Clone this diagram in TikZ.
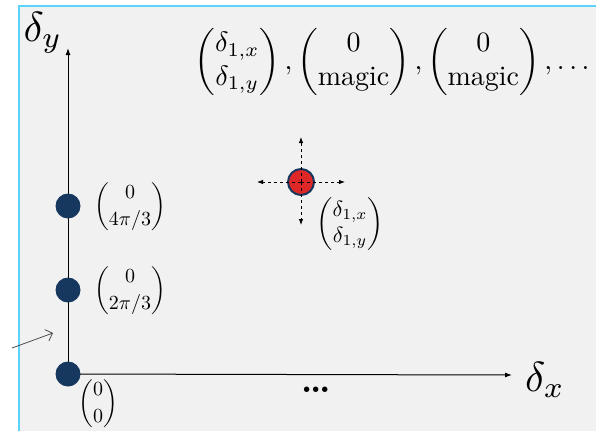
\documentclass[tikz,border=0pt]{standalone}
\usepackage{amsmath,amssymb}
\usepackage{tikz}
\usetikzlibrary{arrows.meta,calc}
\definecolor{bggray}{RGB}{241,241,241}
\definecolor{frame}{RGB}{92,212,250}
\definecolor{navy}{RGB}{22,56,94}
\definecolor{dotred}{RGB}{222,40,40}
\tikzset{
  >={Latex[length=7pt,width=5pt]},
  axis/.style={->,line width=1pt},
  pt/.style={circle,fill=navy,minimum size=25pt,inner sep=0pt},
  redpt/.style={circle,fill=dotred,draw=navy,line width=2pt,minimum size=26pt,inner sep=0pt},
  probe/.style={->,dashed,line width=0.8pt,>={Latex[length=6pt,width=4.5pt]}},
  vlbl/.style={scale=2,inner sep=0pt},
  axlbl/.style={scale=4.2,inner sep=0pt},
  toplbl/.style={scale=2.8,inner sep=0pt},
}

\begin{document}
\begin{tikzpicture}[x=1pt,y=-1pt]
  \useasboundingbox (0,0) rectangle (596,431);
  % backdrop
  \fill[white] (0,0) rectangle (596,431);
  \fill[bggray] (19,6) rectangle (596,431);
  \draw[frame,line width=2.5pt] (19,431) -- (19,6) -- (596,6);
  % axes
  \coordinate (org) at (68,374);
  \coordinate (ytop) at (68,48);
  \coordinate (xend) at (512,375);
  \draw[axis] (org) -- (ytop);
  \draw[axis] (org) -- (xend);
  \node[pt] (o) at (org) {};
  \node[pt] (p1) at (68,290) {};
  \node[pt] (p2) at (68,206) {};
  \node[axlbl] (ly) at (43,33) {$\delta_y$};
  \node[axlbl] (lx) at (545,380) {$\delta_x$};
  \node[scale=3.5,inner sep=0pt] (dots) at (316,390) {\textbf{\ldots}};
  % labels of the points
  \node[vlbl] (l0) at (98,404) {$\dbinom{0}{0}$};
  \node[vlbl] (l1) at (130,291) {$\dbinom{0}{2\pi/3}$};
  \node[vlbl] (l2) at (130,207) {$\dbinom{0}{4\pi/3}$};
  % pointer from the left
  \coordinate (src) at (12,348);
  \coordinate (dst) at (53,333);
  \draw[->,>={Straight Barb[length=6pt]},black!70,line width=0.8pt] (src) -- (dst);
  % moving point
  \node[redpt] (q) at (301,182) {};
  \draw[probe] (q.center) -- (257,182);
  \draw[probe] (q.center) -- (345,182);
  \draw[probe] (q.center) -- (301,137);
  \draw[probe] (q.center) -- (301,225);
  \node[vlbl,scale=1.1] (lq) at (350,224) {$\begin{pmatrix}\delta_{1,x}\\ \delta_{1,y}\end{pmatrix}$};
  % sequence on top
  \node[toplbl] (seq) at (392,62) {$\begin{pmatrix}\delta_{1,x}\\ \delta_{1,y}\end{pmatrix},
    \begin{pmatrix}0\\ \text{magic}\end{pmatrix},
    \begin{pmatrix}0\\ \text{magic}\end{pmatrix},\ldots$};
\end{tikzpicture}
\end{document}
